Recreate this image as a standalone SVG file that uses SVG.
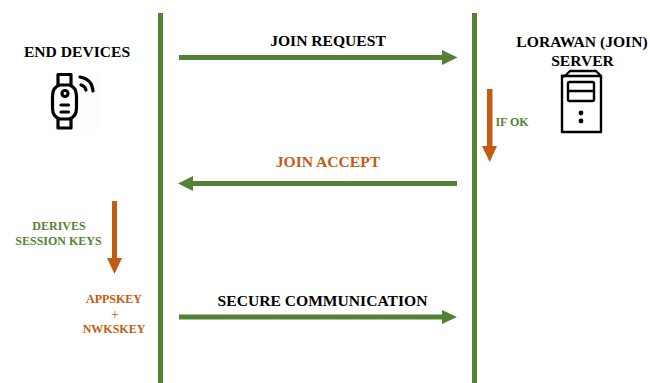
<svg xmlns="http://www.w3.org/2000/svg" width="650" height="383" viewBox="0 0 650 383">
<style>
text{font-family:"Liberation Serif","Times New Roman",serif;font-weight:700;text-anchor:middle}
.k{fill:#000;font-size:15.6px}
.g{fill:#548235}
.o{fill:#c55a11}
.s{font-size:12px}
.ln{fill:none;stroke:#000;stroke-width:2.400;stroke-linecap:round;stroke-linejoin:round}
.th{fill:none;stroke:#000;stroke-width:3.200;stroke-linecap:round;stroke-linejoin:round}
</style>
<rect width="650" height="383" fill="#fff"/>
<g id="connectors">
<rect class="g" x="158" y="13" width="5" height="370"/>
<rect class="g" x="472" y="13" width="5" height="370"/>
<polygon class="g" points="179,55 442,55 442,50 457.500,57.500 442,65 442,60 179,60"/>
<polygon class="g" points="457,181 193,181 193,176 178,183.500 193,191 193,186 457,186"/>
<polygon class="g" points="179,314.500 442,314.500 442,310 457,317 442,324 442,319.500 179,319.500"/>
<polygon class="o" points="487,89 492.500,89 492.500,146 497,146 489.700,162 482,146 487,146"/>
<polygon class="o" points="112,201 117,201 117,258 122,258 114.500,274 107,258 112,258"/>
</g>
<g id="end-devices">
<text class="k" x="77" y="57">END DEVICES</text>
<rect x="47" y="73" width="53" height="57" fill="#fdfdfd"/>
<path class="th" d="M58 85V74.500H71V85M58 119V128H71V119"/>
<path class="th" d="M60 85H69Q76.500 87 76.500 96V108Q76.500 117 69 119H60Q52.500 117 52.500 108V96Q52.500 87 60 85Z"/>
<circle class="th" cx="65" cy="93.500" r="3"/>
<path class="th" d="M61 105H68.500M61 112H68.500"/>
<path class="th" d="M80 77Q92 79 93 91M81 85Q85 86 86 90"/>
</g>
<g id="lorawan-server">
<text class="k" x="582" y="47">LORAWAN (JOIN)</text>
<text class="k" x="582.500" y="66">SERVER</text>
<path class="ln" d="M565 76L570 71H596L601 76V132H562V76Z"/>
<path class="ln" d="M562 76H601"/>
<rect class="ln" x="568" y="82" width="26" height="19" rx="1.500"/>
<path class="ln" d="M568 91H594"/>
<circle cx="581" cy="113" r="2.400"/>
<circle cx="581" cy="121" r="2.400"/>
</g>
<g id="labels">
<text class="k" x="328" y="46">JOIN REQUEST</text>
<text class="o" font-size="15.600" x="328" y="167">JOIN ACCEPT</text>
<text class="k" x="322.500" y="306">SECURE COMMUNICATION</text>
<text class="g s" x="512" y="126">IF OK</text>
<text class="g s" x="59" y="230">DERIVES</text>
<text class="g s" x="58.500" y="245">SESSION KEYS</text>
<text class="o s" x="114" y="303">APPSKEY</text>
<text class="o" x="115" y="319" font-size="14" style="font-weight:400">+</text>
<text class="o s" x="114" y="333">NWKSKEY</text>
</g>
</svg>
